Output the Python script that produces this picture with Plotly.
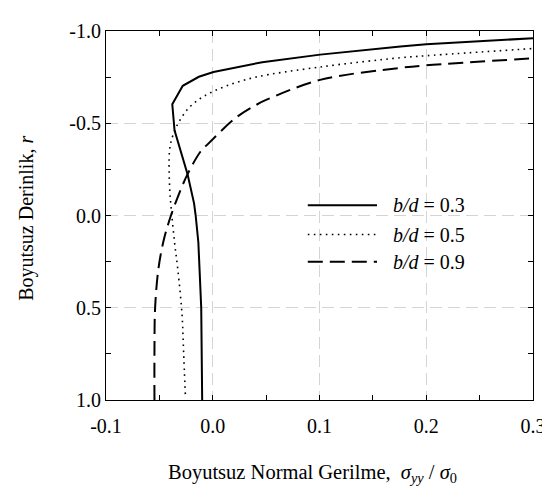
import plotly.graph_objects as go

# b/d = 0.3 (solid)
r_03 = [1.0, 0.75, 0.5, 0.3, 0.145, 0.0, -0.066, -0.224, -0.347, -0.462, -0.603,
        -0.703, -0.752, -0.778, -0.831, -0.872, -0.916, -0.928, -0.961]
s_03 = [-0.0099, -0.0102, -0.0108, -0.0123, -0.0135, -0.016, -0.0175, -0.0236, -0.0297,
        -0.0358, -0.0379, -0.0281, -0.0130, 0.0007, 0.0464, 0.1006, 0.1758, 0.2, 0.3]

# b/d = 0.5 (dotted)
r_05 = [0.968, 0.74, 0.535, 0.294, 0.145, -0.031, -0.154, -0.356, -0.435, -0.506,
        -0.585, -0.646, -0.699, -0.748, -0.805, -0.855, -0.866, -0.905]
s_05 = [-0.0257, -0.0273, -0.0288, -0.0327, -0.0358, -0.0388, -0.0404, -0.0404, -0.0373,
        -0.0318, -0.0221, -0.0084, 0.0114, 0.0388, 0.1006, 0.1758, 0.2, 0.3]

# b/d = 0.9 (dashed)
r_09 = [1.0, 0.74, 0.5, 0.294, 0.145, 0.022, -0.101, -0.224, -0.347, -0.383, -0.532,
        -0.603, -0.629, -0.735, -0.80, -0.814, -0.852]
s_09 = [-0.0546, -0.0546, -0.054, -0.051, -0.0464, -0.0404, -0.0327, -0.0236, -0.0114,
        -0.0053, 0.0221, 0.0418, 0.051, 0.1006, 0.1758, 0.2, 0.3]

x_ticks = [-0.1, 0.0, 0.1, 0.2, 0.3]
x_ticktext = ["-0.1", "0.0", "0.1", "0.2", "0.3"]
y_ticks = [-1.0, -0.5, 0.0, 0.5, 1.0]
y_ticktext = ["-1.0", "-0.5", "0.0", "0.5", "1.0"]

legend_labels = ["<i>b/d</i> = 0.3", "<i>b/d</i> = 0.5", "<i>b/d</i> = 0.9"]
x_title = "Boyutsuz Normal Gerilme,  <i>σ<sub>yy</sub></i> / <i>σ</i><sub>0</sub>"
y_title = "Boyutsuz Derinlik, <i>r</i>"

FONT = "Liberation Serif, Times New Roman, serif"
styles = [
    dict(width=2, dash="solid"),
    dict(width=1.6, dash="1.6px,4.4px"),
    dict(width=2, dash="15px,7px"),
]

fig = go.Figure()
series = [(s_03, r_03, "linear"), (s_05, r_05, "spline"), (s_09, r_09, "spline")]
for (xs, ys, shp), st, name in zip(series, styles, legend_labels):
    fig.add_trace(go.Scatter(x=xs, y=ys, mode="lines", name=name, showlegend=False,
                             line=dict(color="black", shape=shp, **st)))

# manual legend
leg_y = [0.5277, 0.4485, 0.3747]
for yy, st, name in zip(leg_y, styles, legend_labels):
    fig.add_shape(type="line", xref="paper", yref="paper", x0=0.4726, x1=0.6347,
                  y0=yy, y1=yy, line=dict(color="black", **st))
    fig.add_annotation(xref="paper", yref="paper", x=0.6667, y=yy, text=name,
                       showarrow=False, xanchor="left", yanchor="middle",
                       font=dict(family=FONT, size=20, color="black"))

# axis titles
fig.add_annotation(xref="paper", yref="paper", x=0.484, y=-0.2005, text=x_title,
                   showarrow=False, xanchor="center", yanchor="middle",
                   font=dict(family=FONT, size=20.5, color="black"))
fig.add_annotation(xref="paper", yref="paper", x=-0.185, y=0.491, text=y_title,
                   showarrow=False, xanchor="center", yanchor="middle", textangle=-90,
                   font=dict(family=FONT, size=20, color="black"))

axis_common = dict(
    showline=True, linecolor="black", linewidth=1, mirror="ticks",
    ticks="inside", ticklen=5, tickcolor="black", tickwidth=1,
    showgrid=True, gridcolor="#d4d4d4", gridwidth=1, griddash="12px,6px",
    zeroline=False,
    tickfont=dict(family=FONT, size=20, color="black"),
)

fig.update_xaxes(range=[-0.1, 0.3], tickvals=x_ticks, ticktext=x_ticktext,
                 minor=dict(dtick=0.05, ticks="inside", ticklen=5, tickcolor="black", showgrid=False),
                 ticklabelstandoff=8,
                 **axis_common)
fig.update_yaxes(range=[1.0, -1.0], tickvals=y_ticks, ticktext=y_ticktext,
                 minor=dict(dtick=0.25, ticks="inside", ticklen=5, tickcolor="black", showgrid=False),
                 **axis_common)

fig.update_layout(
    width=550, height=493,
    margin=dict(l=98, r=14, t=13, b=101),
    paper_bgcolor="white", plot_bgcolor="white",
    font=dict(family=FONT, size=20, color="black"),
)

fig.write_html("out.html")
